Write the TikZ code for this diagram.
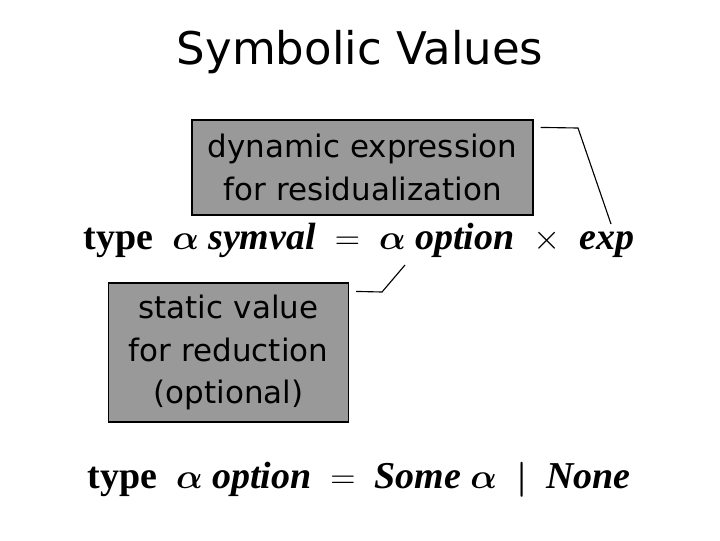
\documentclass[tikz,border=0pt]{standalone}
\usepackage{amsmath}
\usepackage{bm}
\usepackage{fontspec}
\setmainfont{Liberation Serif}
\newfontfamily\comicfont{DejaVu Sans}
\usepackage{tikz}

\begin{document}
\begin{tikzpicture}[x=0.025cm, y=-0.025cm,
        note/.style={draw=black, thick, fill=black!40, inner sep=0pt, align=center,
            font=\comicfont\fontsize{22}{30}\selectfont},
        decl/.style={anchor=center, font=\fontsize{27}{30}\selectfont}]
        \useasboundingbox (0,0) rectangle (720,540);

        \node (title) at (360,52) {\comicfont\fontsize{32}{36}\selectfont Symbolic Values};

        %%%%%%%%%%%%%%%%%%%%%%%%%%%%%%
        \node[note, text width=8.5cm, minimum width=8.525cm,
            minimum height=2.375cm] (dyn) at (362.5,167.5)
            {dynamic expression\\for residualization};
        \node[note, text width=6cm, minimum height=3.475cm] (stat) at (228.5,352.5)
            {static value\\for reduction\\(optional)};

        %%%%%%%%%%%%%%%%%%%%%%%%%%%%%%
        \node[decl] (symval) at (359,240)
            {\textbf{type}\enspace$\bm{\alpha}$ \textbf{\textit{symval}}\enspace$=$\enspace
             $\bm{\alpha}$ \textbf{\textit{option}}\enspace$\times$\enspace\textbf{\textit{exp}}};
        \node[decl] (option) at (359,480)
            {\textbf{type}\enspace$\bm{\alpha}$ \textbf{\textit{option}}\enspace$=$\enspace
             \textbf{\textit{Some}} $\bm{\alpha}$\enspace$\bm{|}$\enspace\textbf{\textit{None}}};

        %%%%%%%%%%%%%%%%%%%%%%%%%%%%%%
        \coordinate (k1) at (578,128);
        \coordinate (e1) at (611,224);
        \draw[thick] (dyn.north east) ++(7,8) -- (k1) -- (e1);
        \coordinate (k2) at (382,292);
        \coordinate (e2) at (405,265);
        \draw[thick] (stat.north east) ++(7,9) -- (k2) -- (e2);
\end{tikzpicture}
\end{document}
